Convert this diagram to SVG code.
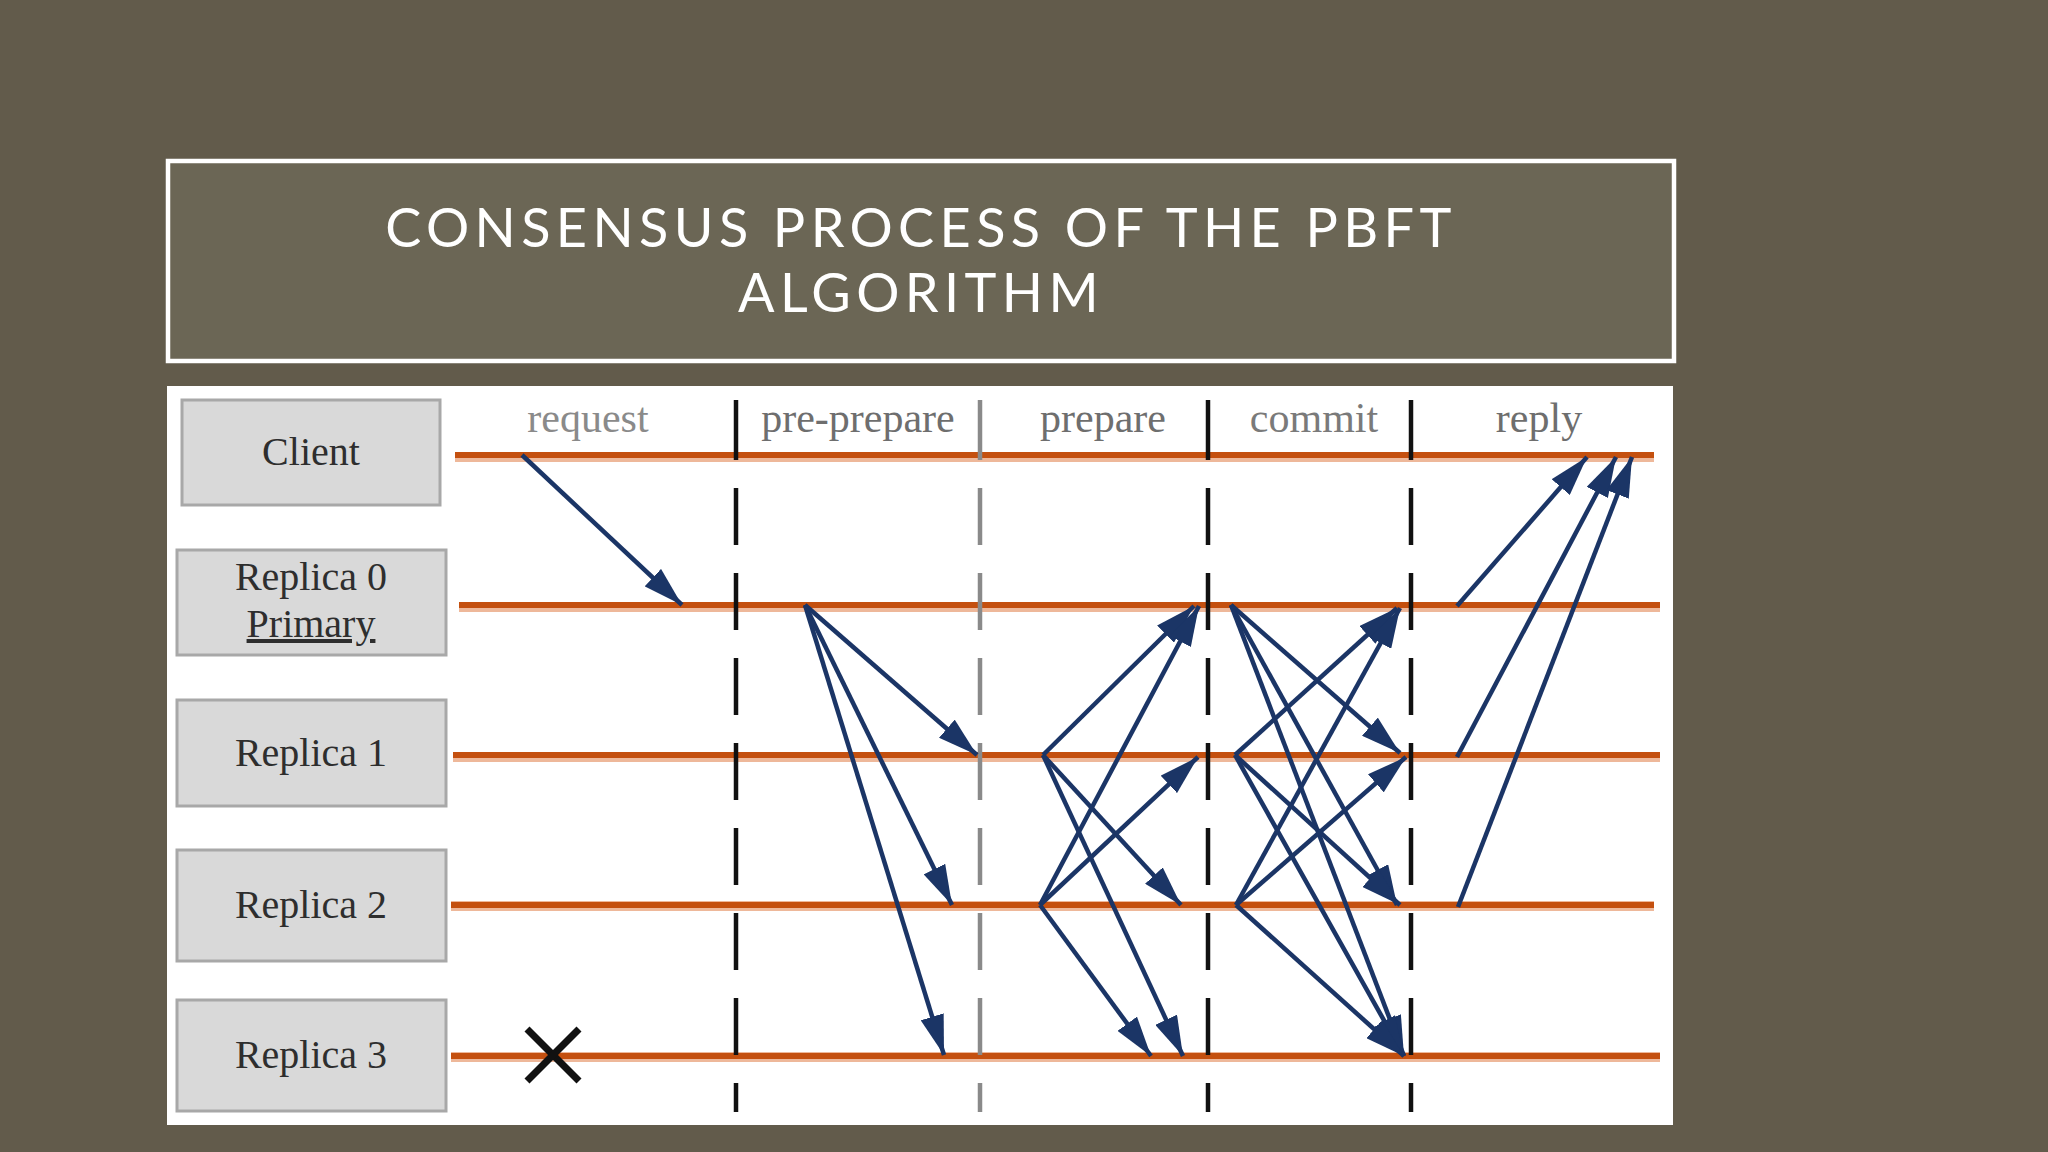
<svg xmlns="http://www.w3.org/2000/svg" width="2048" height="1152" viewBox="0 0 2048 1152">
<style>
.title{font-family:Lato,"Open Sans","Liberation Sans",sans-serif;font-size:54px;fill:#ffffff;letter-spacing:5.4px;text-anchor:middle}
.box{fill:#d9d9d9;stroke:#a8a8a8;stroke-width:3}
.nt{font-family:"Liberation Serif",serif;font-size:40px;fill:#2e2e2e;text-anchor:middle}
.ph{font-family:"Liberation Serif",serif;font-size:42px;fill:#6e6e6e;text-anchor:middle}
.halo{stroke:#eeb89a;stroke-width:10;fill:none}
.tl{stroke:#c4500f;stroke-width:6;fill:none}
.vs{stroke:#111;stroke-width:4.5}
.vd{stroke:#111;stroke-width:4.5;stroke-dasharray:57 28}
.ar{stroke:#1b3566;stroke-width:4.5;fill:none;marker-end:url(#ah)}
</style>
<defs>
<marker id="ah" markerUnits="userSpaceOnUse" markerWidth="40" markerHeight="24" viewBox="0 0 40 24" refX="40" refY="12" orient="auto">
<path d="M0,0 L40,12 L0,24 Z" fill="#1b3566"/>
</marker>
</defs>
<rect x="0" y="0" width="2048" height="1152" fill="#625b4b"/>
<rect x="168" y="161" width="1506" height="200" fill="#6b6655" stroke="#ffffff" stroke-width="4.5"/>
<text class="title" x="921" y="247">CONSENSUS PROCESS OF THE PBFT</text>
<text class="title" x="921" y="312">ALGORITHM</text>
<rect x="167" y="386" width="1506" height="739" fill="#ffffff"/>

<g id="timelines">
<line class="halo" x1="455" y1="457" x2="1654" y2="457"/>
<line class="tl" x1="455" y1="455" x2="1654" y2="455"/>
<line class="halo" x1="459" y1="607" x2="1660" y2="607"/>
<line class="tl" x1="459" y1="605" x2="1660" y2="605"/>
<line class="halo" x1="453" y1="757" x2="1660" y2="757"/>
<line class="tl" x1="453" y1="755" x2="1660" y2="755"/>
<line class="halo" x1="451" y1="906" x2="1654" y2="906"/>
<line class="tl" x1="451" y1="905" x2="1654" y2="905"/>
<line class="halo" x1="451" y1="1057" x2="1660" y2="1057"/>
<line class="tl" x1="451" y1="1056" x2="1660" y2="1056"/>
</g>

<g id="phases">
<line class="vs" x1="736" y1="400" x2="736" y2="460"/>
<line class="vd" x1="736" y1="488" x2="736" y2="1112"/>
<line class="vs" x1="980" y1="400" x2="980" y2="460" style="stroke:#8a8a8a"/>
<line class="vd" x1="980" y1="488" x2="980" y2="1112" style="stroke:#8a8a8a"/>
<line class="vs" x1="1208" y1="400" x2="1208" y2="460"/>
<line class="vd" x1="1208" y1="488" x2="1208" y2="1112"/>
<line class="vs" x1="1411" y1="400" x2="1411" y2="460"/>
<line class="vd" x1="1411" y1="488" x2="1411" y2="1112"/>
<text class="ph" x="588" y="432" style="fill:#8a8a8a">request</text>
<text class="ph" x="858" y="432">pre-prepare</text>
<text class="ph" x="1103" y="432">prepare</text>
<text class="ph" x="1314" y="432" style="fill:#7a7a7a">commit</text>
<text class="ph" x="1539" y="432">reply</text>
</g>

<g id="client">
<rect class="box" x="182" y="400" width="258" height="105"/>
<text class="nt" x="311" y="465">Client</text>
</g>
<g id="replica0">
<rect class="box" x="177" y="550" width="269" height="105"/>
<text class="nt" x="311" y="590">Replica 0</text>
<text class="nt" x="311" y="637" text-decoration="underline">Primary</text>
</g>
<g id="replica1">
<rect class="box" x="177" y="700" width="269" height="106"/>
<text class="nt" x="311" y="766">Replica 1</text>
</g>
<g id="replica2">
<rect class="box" x="177" y="850" width="269" height="111"/>
<text class="nt" x="311" y="918">Replica 2</text>
</g>
<g id="replica3">
<rect class="box" x="177" y="1000" width="269" height="111"/>
<text class="nt" x="311" y="1068">Replica 3</text>
</g>

<g id="failure">
<line x1="527" y1="1029" x2="579" y2="1081" stroke="#111" stroke-width="7"/>
<line x1="579" y1="1029" x2="527" y2="1081" stroke="#111" stroke-width="7"/>
</g>

<g id="connectors">
<line class="ar" x1="522" y1="455" x2="682" y2="605"/>
<line class="ar" x1="805" y1="605" x2="977" y2="755"/>
<line class="ar" x1="805" y1="605" x2="952" y2="905"/>
<line class="ar" x1="805" y1="605" x2="944" y2="1055"/>
<line class="ar" x1="1043" y1="755" x2="1194" y2="606"/>
<line class="ar" x1="1043" y1="755" x2="1181" y2="905"/>
<line class="ar" x1="1043" y1="755" x2="1183" y2="1056"/>
<line class="ar" x1="1040" y1="905" x2="1199" y2="606"/>
<line class="ar" x1="1040" y1="905" x2="1198" y2="757"/>
<line class="ar" x1="1040" y1="905" x2="1151" y2="1056"/>
<line class="ar" x1="1231" y1="605" x2="1400" y2="753"/>
<line class="ar" x1="1231" y1="605" x2="1397" y2="905"/>
<line class="ar" x1="1231" y1="605" x2="1404" y2="1056"/>
<line class="ar" x1="1235" y1="755" x2="1397" y2="608"/>
<line class="ar" x1="1235" y1="755" x2="1400" y2="905"/>
<line class="ar" x1="1235" y1="755" x2="1404" y2="1056"/>
<line class="ar" x1="1236" y1="905" x2="1400" y2="608"/>
<line class="ar" x1="1236" y1="905" x2="1406" y2="757"/>
<line class="ar" x1="1236" y1="905" x2="1404" y2="1056"/>
<line class="ar" x1="1457" y1="606" x2="1587" y2="457"/>
<line class="ar" x1="1457" y1="757" x2="1616" y2="457"/>
<line class="ar" x1="1458" y1="907" x2="1632" y2="457"/>
</g>
</svg>
